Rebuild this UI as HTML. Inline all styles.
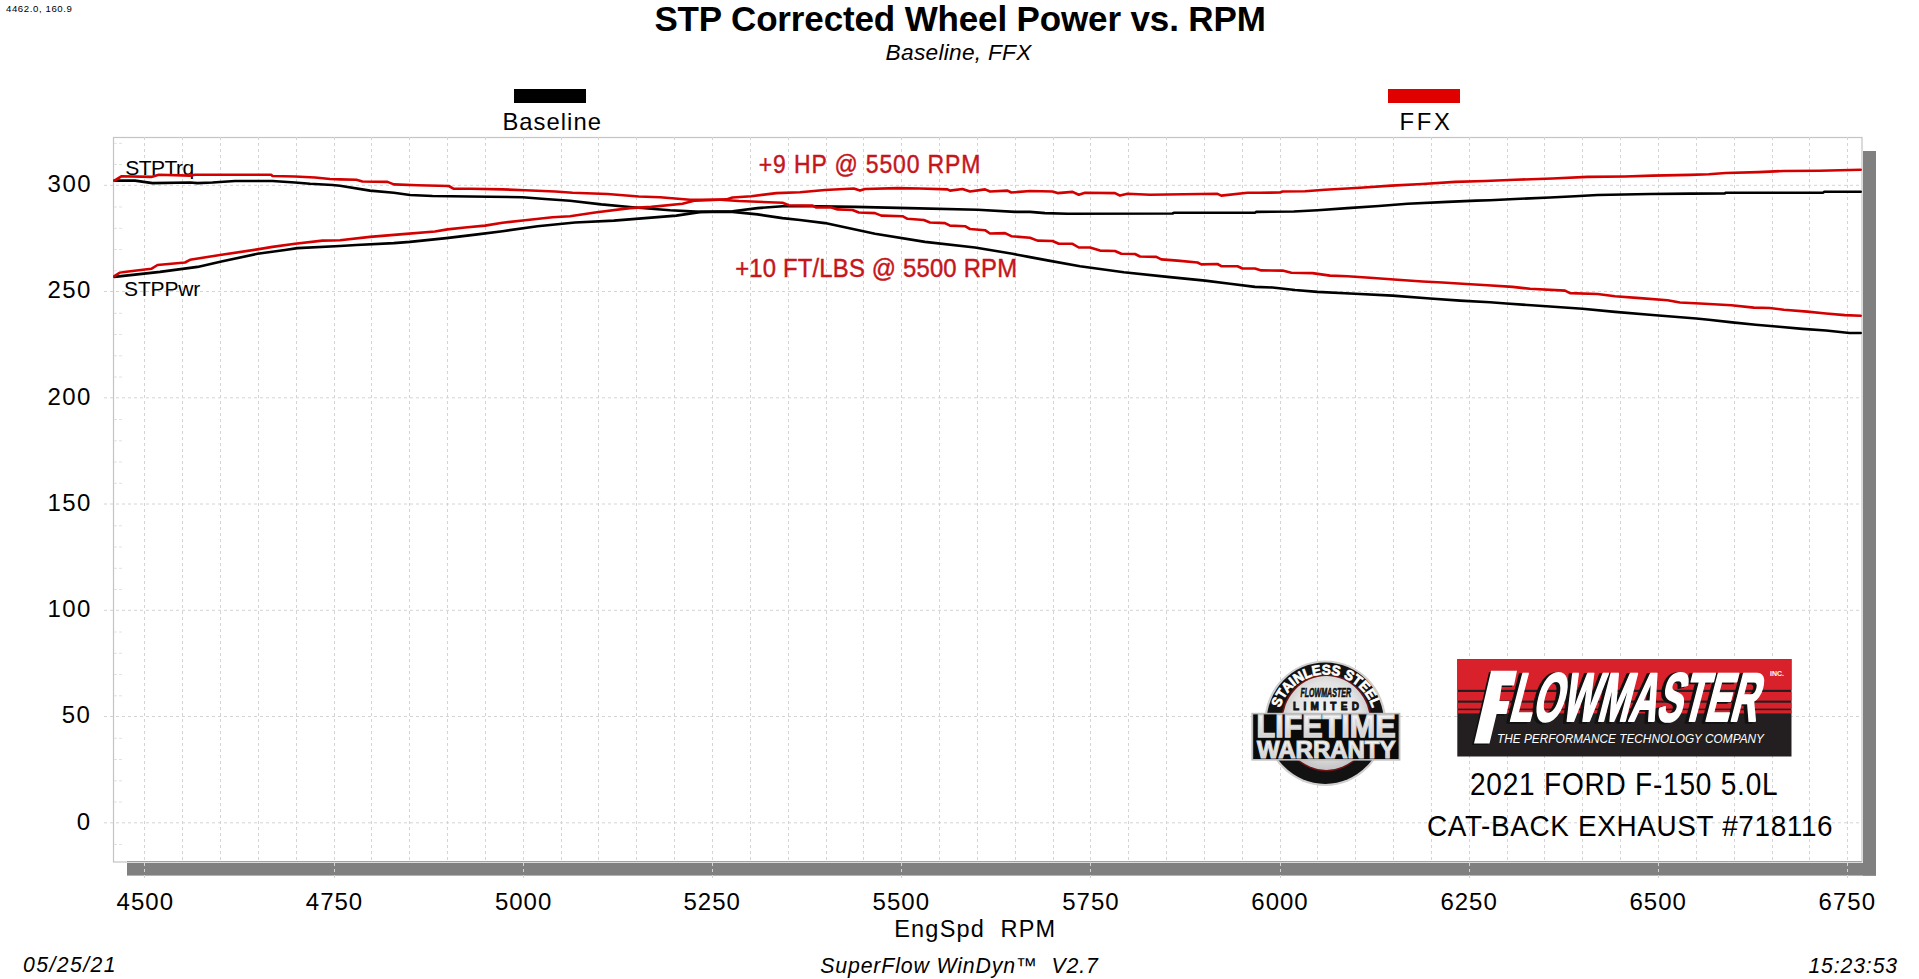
<!DOCTYPE html>
<html><head><meta charset="utf-8">
<style>
html,body{margin:0;padding:0;background:#fff;width:1919px;height:979px;overflow:hidden}
svg{display:block;font-family:"Liberation Sans", sans-serif}
</style></head>
<body>
<svg width="1919" height="979" viewBox="0 0 1919 979">
<rect x="0" y="0" width="1919" height="979" fill="#fff"/>
<rect x="514" y="89" width="72" height="14" fill="#000"/>
<rect x="1388" y="89" width="72" height="14" fill="#e00000"/>
<rect x="127" y="863" width="1749" height="12.6" fill="#808080"/>
<rect x="1863" y="151" width="13" height="724.6" fill="#808080"/>
<line x1="127" y1="861.5" x2="1862" y2="861.5" stroke="#707070" stroke-width="1"/>
<rect x="113.5" y="137.5" width="1748.5" height="724.5" fill="none" stroke="#c4c4c4" stroke-width="1.2"/>
<g stroke="#d4d4d4" stroke-width="1" stroke-dasharray="3 3" fill="none">
<line x1="144.5" y1="137" x2="144.5" y2="880"/>
<line x1="182.5" y1="137" x2="182.5" y2="862"/>
<line x1="220.5" y1="137" x2="220.5" y2="862"/>
<line x1="258.5" y1="137" x2="258.5" y2="862"/>
<line x1="296.5" y1="137" x2="296.5" y2="862"/>
<line x1="334.5" y1="137" x2="334.5" y2="880"/>
<line x1="371.5" y1="137" x2="371.5" y2="862"/>
<line x1="409.5" y1="137" x2="409.5" y2="862"/>
<line x1="447.5" y1="137" x2="447.5" y2="862"/>
<line x1="485.5" y1="137" x2="485.5" y2="862"/>
<line x1="523.5" y1="137" x2="523.5" y2="880"/>
<line x1="561.5" y1="137" x2="561.5" y2="862"/>
<line x1="598.5" y1="137" x2="598.5" y2="862"/>
<line x1="636.5" y1="137" x2="636.5" y2="862"/>
<line x1="674.5" y1="137" x2="674.5" y2="862"/>
<line x1="712.5" y1="137" x2="712.5" y2="880"/>
<line x1="750.5" y1="137" x2="750.5" y2="862"/>
<line x1="788.5" y1="137" x2="788.5" y2="862"/>
<line x1="826.5" y1="137" x2="826.5" y2="862"/>
<line x1="863.5" y1="137" x2="863.5" y2="862"/>
<line x1="901.5" y1="137" x2="901.5" y2="880"/>
<line x1="939.5" y1="137" x2="939.5" y2="862"/>
<line x1="977.5" y1="137" x2="977.5" y2="862"/>
<line x1="1015.5" y1="137" x2="1015.5" y2="862"/>
<line x1="1053.5" y1="137" x2="1053.5" y2="862"/>
<line x1="1090.5" y1="137" x2="1090.5" y2="880"/>
<line x1="1128.5" y1="137" x2="1128.5" y2="862"/>
<line x1="1166.5" y1="137" x2="1166.5" y2="862"/>
<line x1="1204.5" y1="137" x2="1204.5" y2="862"/>
<line x1="1242.5" y1="137" x2="1242.5" y2="862"/>
<line x1="1280.5" y1="137" x2="1280.5" y2="880"/>
<line x1="1317.5" y1="137" x2="1317.5" y2="862"/>
<line x1="1355.5" y1="137" x2="1355.5" y2="862"/>
<line x1="1393.5" y1="137" x2="1393.5" y2="862"/>
<line x1="1431.5" y1="137" x2="1431.5" y2="862"/>
<line x1="1469.5" y1="137" x2="1469.5" y2="880"/>
<line x1="1507.5" y1="137" x2="1507.5" y2="862"/>
<line x1="1544.5" y1="137" x2="1544.5" y2="862"/>
<line x1="1582.5" y1="137" x2="1582.5" y2="862"/>
<line x1="1620.5" y1="137" x2="1620.5" y2="862"/>
<line x1="1658.5" y1="137" x2="1658.5" y2="880"/>
<line x1="1696.5" y1="137" x2="1696.5" y2="862"/>
<line x1="1734.5" y1="137" x2="1734.5" y2="862"/>
<line x1="1772.5" y1="137" x2="1772.5" y2="862"/>
<line x1="1809.5" y1="137" x2="1809.5" y2="862"/>
<line x1="1847.5" y1="137" x2="1847.5" y2="880"/>
<line x1="104" y1="822.8" x2="1862" y2="822.8"/>
<line x1="104" y1="716.5" x2="1862" y2="716.5"/>
<line x1="104" y1="610.3" x2="1862" y2="610.3"/>
<line x1="104" y1="504.0" x2="1862" y2="504.0"/>
<line x1="104" y1="397.8" x2="1862" y2="397.8"/>
<line x1="104" y1="291.5" x2="1862" y2="291.5"/>
<line x1="104" y1="185.3" x2="1862" y2="185.3"/>
</g>
<g fill="#000">
<text x="6.00" y="11.70" font-size="9.60" letter-spacing="0.60">4462.0, 160.9</text>
<text x="654.40" y="30.70" font-size="35.00" font-weight="bold" letter-spacing="-0.14">STP Corrected Wheel Power vs. RPM</text>
<text x="885.60" y="59.90" font-size="22.70" font-style="italic" letter-spacing="0.27">Baseline, FFX</text>
<text x="502.40" y="130.00" font-size="23.80" letter-spacing="1.03">Baseline</text>
<text x="1399.60" y="129.80" font-size="23.80" letter-spacing="2.65">FFX</text>
<text x="894.20" y="936.70" font-size="23.50" letter-spacing="1.21">EngSpd  RPM</text>
<text x="820.20" y="972.50" font-size="21.30" font-style="italic" letter-spacing="0.85">SuperFlow WinDyn™  V2.7</text>
<text x="23.00" y="972.40" font-size="21.20" font-style="italic" letter-spacing="1.43">05/25/21</text>
<text x="1808.40" y="972.80" font-size="21.20" font-style="italic" letter-spacing="0.89">15:23:53</text>
<text transform="translate(1470.00 794.80) scale(0.920 1)" font-size="30.51" letter-spacing="0.83">2021 FORD F-150 5.0L</text>
<text transform="translate(1427.00 836.20) scale(0.920 1)" font-size="30.36" letter-spacing="0.69">CAT-BACK EXHAUST #718116</text>
<text x="125.20" y="175.30" font-size="21.05" letter-spacing="-0.54">STPTrq</text>
<text x="124.00" y="295.50" font-size="21.05" letter-spacing="-0.16">STPPwr</text>
<text transform="translate(758.80 172.50) scale(0.900 1)" font-size="25.53" stroke="#c4161c" stroke-width="0.45" letter-spacing="0.96" fill="#c4161c">+9 HP @ 5500 RPM</text>
<text transform="translate(735.20 276.70) scale(0.900 1)" font-size="26.50" stroke="#c4161c" stroke-width="0.45" letter-spacing="0.22" fill="#c4161c">+10 FT/LBS @ 5500 RPM</text>
<text x="76.70" y="829.70" font-size="24.00" letter-spacing="1.45">0</text>
<text x="61.70" y="723.45" font-size="24.00" letter-spacing="1.45">50</text>
<text x="47.40" y="617.20" font-size="24.00" letter-spacing="1.45">100</text>
<text x="47.40" y="510.95" font-size="24.00" letter-spacing="1.45">150</text>
<text x="47.40" y="404.70" font-size="24.00" letter-spacing="1.45">200</text>
<text x="47.40" y="298.45" font-size="24.00" letter-spacing="1.45">250</text>
<text x="47.60" y="192.20" font-size="24.00" letter-spacing="1.45">300</text>
<text x="116.60" y="909.70" font-size="24.00" letter-spacing="1.00">4500</text>
<text x="305.80" y="909.70" font-size="24.00" letter-spacing="1.00">4750</text>
<text x="494.90" y="909.70" font-size="24.00" letter-spacing="1.00">5000</text>
<text x="683.50" y="909.70" font-size="24.00" letter-spacing="1.00">5250</text>
<text x="872.60" y="909.70" font-size="24.00" letter-spacing="1.00">5500</text>
<text x="1062.20" y="909.70" font-size="24.00" letter-spacing="1.00">5750</text>
<text x="1251.30" y="909.70" font-size="24.00" letter-spacing="1.00">6000</text>
<text x="1440.40" y="909.70" font-size="24.00" letter-spacing="1.00">6250</text>
<text x="1629.50" y="909.70" font-size="24.00" letter-spacing="1.00">6500</text>
<text x="1818.60" y="909.70" font-size="24.00" letter-spacing="1.00">6750</text>
</g>
<g fill="none" stroke-width="2.6" stroke-linejoin="round" stroke-linecap="round">
<polyline stroke="#000" points="114.4,180.6 135.0,180.6 152.5,183.1 190.0,182.5 197.5,183.1 212.5,182.5 235.0,181.0 272.5,181.0 295.0,182.5 310.0,183.8 332.5,185.0 340.0,185.8 370.0,190.6 393.8,192.8 410.0,195.0 432.5,196.0 470.0,196.5 522.5,197.2 545.0,199.0 570.0,200.8 601.3,204.4 632.5,207.2 670.0,210.2 701.3,211.9 732.5,211.9 757.5,214.4 782.5,218.1 800.0,220.0 825.0,223.1 875.0,233.8 925.0,241.9 975.0,247.5 1012.5,253.8 1030.0,257.1 1048.8,260.6 1080.0,266.2 1123.8,272.2 1167.5,276.9 1205.0,280.6 1230.0,283.8 1255.0,286.9 1272.5,287.5 1295.0,290.0 1317.5,291.9 1355.0,293.8 1392.5,295.6 1430.0,298.5 1460.0,300.6 1490.0,302.3 1506.3,303.5 1550.0,306.5 1582.5,308.8 1615.0,311.9 1652.5,315.0 1696.3,318.5 1708.8,319.8 1732.2,322.4 1755.7,324.7 1779.1,326.8 1802.6,328.9 1826.0,330.5 1849.5,333.0 1860.7,333.0"/>
<polyline stroke="#000" points="114.4,276.9 160.0,271.9 197.5,266.9 222.5,261.2 257.5,253.8 285.0,250.0 297.5,248.1 340.0,246.0 356.3,245.0 393.8,243.1 410.0,241.9 446.3,238.1 477.5,234.4 502.5,231.2 537.5,226.2 575.0,222.5 613.8,220.6 645.0,218.1 676.3,215.6 701.3,211.9 732.5,211.2 757.5,208.1 782.5,206.2 800.0,206.0 855.0,206.9 908.8,208.1 977.5,209.8 1015.0,211.9 1030.0,211.9 1045.0,213.1 1067.5,213.8 1172.5,213.5 1173.8,212.8 1255.0,212.8 1256.3,211.9 1293.8,211.5 1317.5,210.2 1347.5,208.1 1378.8,206.0 1407.5,203.8 1447.5,201.9 1476.3,200.6 1490.0,200.2 1515.0,199.0 1550.0,197.5 1575.0,196.2 1597.5,195.0 1650.0,194.0 1690.0,193.6 1724.7,193.5 1725.6,192.7 1823.2,192.7 1824.1,191.8 1860.7,191.8"/>
<polyline stroke="#d40000" points="114.4,180.6 121.3,176.3 151.3,176.9 158.8,174.8 190.0,175.6 195.0,174.8 271.3,174.8 272.5,176.0 295.0,176.5 315.0,177.5 330.0,179.0 340.0,179.4 356.3,179.8 362.5,181.5 387.5,181.9 393.8,184.4 417.5,185.2 448.8,186.0 453.8,188.8 471.3,188.8 502.5,189.4 525.0,190.2 555.0,191.5 572.5,192.8 607.5,194.0 638.8,196.5 660.0,197.2 690.0,199.8 720.0,199.8 738.8,201.0 782.5,202.8 788.8,205.2 812.5,205.6 816.3,207.5 831.3,207.5 837.5,209.4 852.5,210.0 858.8,212.5 875.0,213.1 881.3,215.6 902.5,216.2 907.5,218.8 923.8,220.0 930.0,222.5 945.0,223.1 950.0,225.6 965.0,226.2 970.0,229.0 985.0,230.2 990.0,233.5 1005.0,233.1 1011.3,236.2 1030.0,237.8 1037.5,240.6 1052.5,241.0 1058.8,243.8 1072.5,243.8 1078.8,247.5 1090.0,247.5 1100.0,250.6 1115.0,251.0 1121.3,253.8 1135.0,254.0 1140.0,256.5 1156.3,256.9 1161.3,259.4 1177.5,260.6 1197.5,262.5 1201.3,264.4 1217.5,264.0 1221.3,266.2 1237.5,266.2 1242.5,268.5 1255.0,268.5 1261.3,270.4 1282.5,270.6 1291.3,272.8 1312.5,273.1 1330.0,275.6 1347.5,276.2 1370.0,277.8 1397.5,279.8 1422.5,281.5 1442.5,282.5 1466.3,284.0 1487.5,285.2 1512.5,286.9 1530.0,288.8 1565.0,290.6 1570.0,293.1 1597.5,294.0 1615.0,296.2 1640.0,298.1 1667.5,300.2 1680.0,302.5 1700.0,303.5 1713.5,304.3 1731.3,305.2 1753.8,307.6 1769.7,308.0 1783.8,309.7 1807.3,311.6 1826.0,313.5 1844.8,315.1 1860.7,315.8"/>
<polyline stroke="#d40000" points="114.4,276.2 120.0,272.5 151.3,268.8 157.5,265.0 185.0,262.5 190.0,259.8 220.0,255.0 257.5,249.4 272.5,246.9 295.0,243.8 322.5,240.6 340.0,240.2 370.0,236.9 400.0,234.4 435.0,231.5 447.5,229.4 465.0,227.5 485.0,225.6 502.5,222.8 525.0,220.2 552.5,217.2 570.0,216.2 595.0,212.5 630.0,208.1 651.3,206.9 682.5,203.8 695.0,200.6 726.3,199.4 732.5,197.5 751.3,196.2 776.3,193.1 800.0,192.2 825.0,190.0 853.8,188.5 860.0,190.6 865.0,189.0 897.5,188.1 920.0,188.5 947.5,189.4 950.0,190.6 962.5,189.0 970.0,191.5 985.0,189.4 990.0,191.5 1007.5,190.6 1011.3,192.5 1030.0,191.0 1052.5,191.5 1057.5,193.1 1072.5,191.9 1078.8,194.8 1085.0,192.8 1115.0,193.1 1120.0,195.6 1127.5,193.8 1150.0,194.8 1217.5,193.8 1221.3,195.6 1247.5,192.8 1260.0,192.8 1280.0,192.5 1282.5,191.5 1305.0,191.2 1325.0,189.8 1360.0,187.8 1391.3,185.6 1422.5,184.0 1455.0,181.9 1485.0,181.0 1515.0,179.8 1552.5,178.5 1587.5,176.9 1625.0,176.5 1652.5,175.6 1690.0,174.9 1708.8,174.2 1725.6,173.0 1758.5,172.1 1783.8,171.0 1819.5,170.8 1860.7,169.8"/>
</g>
<g stroke="#e2e2e2" stroke-width="1" stroke-dasharray="3 2"><line x1="114" y1="844.5" x2="123" y2="844.5"/><line x1="114" y1="802.0" x2="123" y2="802.0"/><line x1="114" y1="780.8" x2="123" y2="780.8"/><line x1="114" y1="759.5" x2="123" y2="759.5"/><line x1="114" y1="738.3" x2="123" y2="738.3"/><line x1="114" y1="695.8" x2="123" y2="695.8"/><line x1="114" y1="674.5" x2="123" y2="674.5"/><line x1="114" y1="653.3" x2="123" y2="653.3"/><line x1="114" y1="632.0" x2="123" y2="632.0"/><line x1="114" y1="589.5" x2="123" y2="589.5"/><line x1="114" y1="568.3" x2="123" y2="568.3"/><line x1="114" y1="547.0" x2="123" y2="547.0"/><line x1="114" y1="525.8" x2="123" y2="525.8"/><line x1="114" y1="483.3" x2="123" y2="483.3"/><line x1="114" y1="462.0" x2="123" y2="462.0"/><line x1="114" y1="440.8" x2="123" y2="440.8"/><line x1="114" y1="419.5" x2="123" y2="419.5"/><line x1="114" y1="377.0" x2="123" y2="377.0"/><line x1="114" y1="355.8" x2="123" y2="355.8"/><line x1="114" y1="334.5" x2="123" y2="334.5"/><line x1="114" y1="313.3" x2="123" y2="313.3"/><line x1="114" y1="270.8" x2="123" y2="270.8"/><line x1="114" y1="249.5" x2="123" y2="249.5"/><line x1="114" y1="228.3" x2="123" y2="228.3"/><line x1="114" y1="207.0" x2="123" y2="207.0"/><line x1="114" y1="164.5" x2="123" y2="164.5"/><line x1="114" y1="143.3" x2="123" y2="143.3"/></g>
<defs>
<radialGradient id="bgin" cx="50%" cy="45%" r="55%">
<stop offset="0" stop-color="#f6f6f6"/><stop offset="0.7" stop-color="#e2e2e2"/><stop offset="1" stop-color="#c4c4c4"/>
</radialGradient>
<linearGradient id="silver" x1="0" y1="0" x2="0" y2="1">
<stop offset="0" stop-color="#ffffff"/><stop offset="0.5" stop-color="#e4e4e4"/><stop offset="1" stop-color="#c8c8c8"/>
</linearGradient>
<path id="arc" d="M 1284 747.25 A 48.5 48.5 0 1 1 1368 747.25"/>
</defs>
<g id="badge">
<ellipse cx="1325.2" cy="723.2" rx="61" ry="62.7" fill="#cfcfcf"/>
<ellipse cx="1325.2" cy="723.2" rx="58.8" ry="60.7" fill="#121212"/>
<ellipse cx="1326.3" cy="722.9" rx="45.5" ry="48.5" fill="#6e1416"/>
<ellipse cx="1326.3" cy="722.9" rx="44" ry="47" fill="url(#bgin)"/>
<text font-size="14" font-weight="bold" fill="#fff" stroke="#fff" stroke-width="0.7"><textPath href="#arc" startOffset="50%" text-anchor="middle" textLength="122" lengthAdjust="spacingAndGlyphs">STAINLESS STEEL</textPath></text>
<text x="1300.5" y="697" font-size="12.5" font-weight="bold" font-style="italic" fill="#111" stroke="#111" stroke-width="0.6" textLength="50.5" lengthAdjust="spacingAndGlyphs">FLOWMASTER</text>
<text x="1293" y="709.8" font-size="10" font-weight="bold" fill="#111" stroke="#111" stroke-width="0.8" textLength="66" lengthAdjust="spacing">LIMITED</text>
<rect x="1251.4" y="712.8" width="149" height="47.8" fill="#bcbcbc"/>
<rect x="1253.2" y="714.4" width="145.4" height="44.6" fill="#0a0a0a"/>
<text x="1256.5" y="736.7" font-size="30.5" font-weight="bold" fill="url(#silver)" stroke="#d8d8d8" stroke-width="1.4" textLength="139" lengthAdjust="spacingAndGlyphs">LIFETIME</text>
<text x="1257" y="758.3" font-size="24.5" font-weight="bold" fill="url(#silver)" stroke="#d8d8d8" stroke-width="1.2" textLength="138.5" lengthAdjust="spacingAndGlyphs">WARRANTY</text>
</g>
<g id="fm">
<rect x="1457.3" y="659.1" width="334.2" height="97.4" fill="#231f20"/>
<rect x="1457.3" y="659.1" width="334.2" height="30.7" fill="#d9212b"/>
<rect x="1457.3" y="692" width="334.2" height="8.6" fill="#d9212b"/>
<rect x="1457.3" y="702.7" width="334.2" height="5.9" fill="#d9212b"/>
<rect x="1457.3" y="710.2" width="334.2" height="3.2" fill="#d9212b"/>
<g transform="translate(1508,720.6) skewX(-14.5) scale(0.552,1)">
<text x="-5.5" y="1.2" font-size="68.6" font-weight="bold" fill="#111" stroke="#111" stroke-width="3.5" stroke-linejoin="round">LOWMASTER</text>
<text x="0" y="0" font-size="68.6" font-weight="bold" fill="#fff" stroke="#fff" stroke-width="2.2" stroke-linejoin="round">LOWMASTER</text>
</g>
<polygon fill="#111" points="1489,672 1515,672 1512,687 1500,687 1497.5,702 1507,702 1504,715.5 1494.5,715.5 1488,745 1472,745"/>
<polygon fill="#fff" points="1491.1,670.7 1517,670.7 1514,685.4 1501.8,685.4 1499.4,701 1509.5,701 1506.5,714 1496.6,714 1489.5,743.5 1474,743.5"/>
<text x="1497" y="742.7" font-size="12" font-style="italic" fill="#fff" textLength="267" lengthAdjust="spacingAndGlyphs">THE PERFORMANCE TECHNOLOGY COMPANY</text>
<text x="1770" y="676" font-size="6.8" font-weight="bold" fill="#fff" textLength="14" lengthAdjust="spacingAndGlyphs">INC.</text>
</g>

</svg>
</body></html>
